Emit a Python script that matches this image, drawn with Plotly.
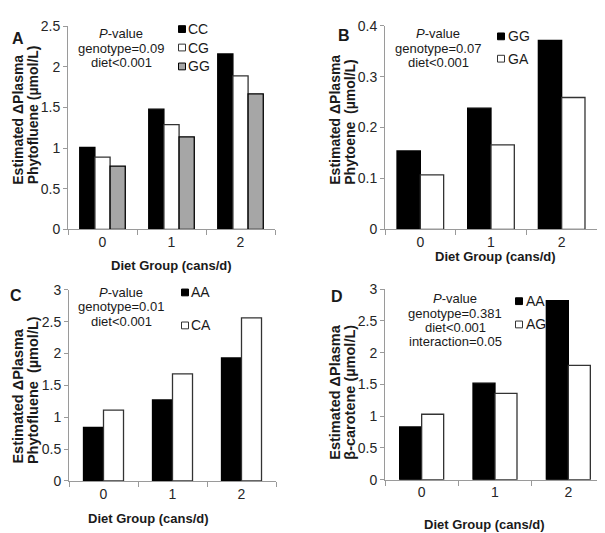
import plotly.graph_objects as go

W, H = 605, 533

diet_groups = ["0", "1", "2"]

# Panel A: phytofluene by genotype (CC, CG, GG)
a_names = ["CC", "CG", "GG"]
a_CC = [1.01, 1.48, 2.16]
a_CG = [0.89, 1.29, 1.89]
a_GG = [0.78, 1.14, 1.67]

# Panel B: phytoene by genotype (GG, GA)
b_names = ["GG", "GA"]
b_GG = [0.154, 0.238, 0.371]
b_GA = [0.107, 0.166, 0.259]

# Panel C: phytofluene by genotype (AA, CA)
c_names = ["AA", "CA"]
c_AA = [0.84, 1.27, 1.93]
c_CA = [1.11, 1.68, 2.56]

# Panel D: beta-carotene by genotype (AA, AG)
d_names = ["AA", "AG"]
d_AA = [0.83, 1.52, 2.82]
d_AG = [1.03, 1.36, 1.80]


def px(x):
    return x / W


def py(y):
    return 1 - y / H


BLACK = "#000000"
WHITE = "#ffffff"
GREY = "#a6a6a6"
EDGE_K = "#000000"
EDGE_W = "#333333"
AXIS = "#9a9a9a"
TXT = "#1a1a1a"
FONT = "Liberation Sans, Arial, sans-serif"

fig = go.Figure()


def add_group(names, series, fills, xa, ya, bw):
    n = len(series)
    start = -n * bw / 2
    for i, (nm, vals, fill) in enumerate(zip(names, series, fills)):
        fig.add_trace(go.Bar(
            x=diet_groups, y=vals, name=nm,
            width=bw, offset=start + i * bw,
            marker=dict(color=fill,
                        line=dict(color=EDGE_K if fill != WHITE else EDGE_W, width=1.3)),
            xaxis=xa, yaxis=ya, showlegend=False, hoverinfo="skip",
        ))


add_group(a_names, [a_CC, a_CG, a_GG], [BLACK, WHITE, GREY], "x", "y", 0.22)
add_group(b_names, [b_GG, b_GA], [BLACK, WHITE], "x2", "y2", 0.33)
add_group(c_names, [c_AA, c_CA], [BLACK, WHITE], "x3", "y3", 0.29)
add_group(d_names, [d_AA, d_AG], [BLACK, WHITE], "x4", "y4", 0.30)

tickfont = dict(family=FONT, size=14, color="#262626")

xcommon = dict(type="category", showline=True, linecolor=AXIS, linewidth=1,
               ticks="outside", tickson="boundaries", ticklen=5, tickcolor=AXIS,
               showgrid=False, zeroline=False, tickfont=tickfont, fixedrange=True)
ycommon = dict(showline=True, linecolor=AXIS, linewidth=1, ticks="outside",
               ticklen=4, tickcolor=AXIS, showgrid=False, zeroline=False,
               tickfont=tickfont, fixedrange=True)

# pixel boxes: (x0, x1, ytop, ybottom)
boxA = (60, 267, 10.7, 220)
boxB = (377, 589, 10, 220)
boxC = (61, 268, 282.3, 479.3)
boxD = (377, 597, 281.7, 478)

fig.update_layout(
    width=W, height=H, margin=dict(l=0, r=0, t=0, b=0),
    paper_bgcolor="white", plot_bgcolor="white",
    barmode="overlay", showlegend=False,
    xaxis=dict(domain=[px(boxA[0]), px(boxA[1])], anchor="y", **xcommon),
    yaxis=dict(domain=[py(boxA[3]), py(boxA[2])], anchor="x", range=[0, 2.5], dtick=0.5, **ycommon),
    xaxis2=dict(domain=[px(boxB[0]), px(boxB[1])], anchor="y2", **xcommon),
    yaxis2=dict(domain=[py(boxB[3]), py(boxB[2])], anchor="x2", range=[0, 0.4], dtick=0.1, **ycommon),
    xaxis3=dict(domain=[px(boxC[0]), px(boxC[1])], anchor="y3", **xcommon),
    yaxis3=dict(domain=[py(boxC[3]), py(boxC[2])], anchor="x3", range=[0, 3], dtick=0.5, **ycommon),
    xaxis4=dict(domain=[px(boxD[0]), px(boxD[1])], anchor="y4", **xcommon),
    yaxis4=dict(domain=[py(boxD[3]), py(boxD[2])], anchor="x4", range=[0, 3], dtick=0.5, **ycommon),
)

ann = []
shapes = []


def text(x, y, s, size, bold=False, angle=0, xanchor="center", yanchor="middle"):
    ann.append(dict(xref="paper", yref="paper", x=px(x), y=py(y), text=s,
                    showarrow=False, textangle=angle, xanchor=xanchor, yanchor=yanchor,
                    borderpad=0,
                    font=dict(family=FONT, size=size, color=TXT,
                              weight="bold" if bold else "normal")))


def legend(names, fills, sq_x, rows, text_x, size=7):
    for nm, fill, ry in zip(names, fills, rows):
        shapes.append(dict(type="rect", xref="paper", yref="paper",
                           x0=px(sq_x - size / 2), x1=px(sq_x + size / 2),
                           y0=py(ry + size / 2), y1=py(ry - size / 2),
                           fillcolor=fill,
                           line=dict(color=EDGE_K if fill != WHITE else EDGE_W, width=1)))
        text(text_x, ry, nm, 14, xanchor="left")


legend(a_names, [BLACK, WHITE, GREY], 174, [13.5, 32.5, 52], 179)
legend(b_names, [BLACK, WHITE], 493, [21, 44], 499)
legend(c_names, [BLACK, WHITE], 177, [285, 319], 182)
legend(d_names, [BLACK, WHITE], 511, [294, 318], 517)

# panel letters
text(10, 23, "A", 16, True)
text(336, 20, "B", 16, True)
text(8, 288, "C", 16, True)
text(329, 289, "D", 16, True)


def pbox(cx, ys, lines):
    for yy, s in zip(ys, lines):
        text(cx, yy, s, 13)


pbox(113, [18, 33, 48], ["<i>P</i>-value", "genotype=0.09", "diet&lt;0.001"])
pbox(430, [18, 33, 48], ["<i>P</i>-value", "genotype=0.07", "diet&lt;0.001"])
pbox(113, [285, 300, 315], ["<i>P</i>-value", "genotype=0.01", "diet&lt;0.001"])
pbox(447, [291.5, 306.3, 321.1, 335.9],
     ["<i>P</i>-value", "genotype=0.381", "diet&lt;0.001", "interaction=0.05"])

# x titles
text(163, 257, "Diet Group (cans/d)", 13, True)
text(487, 248, "Diet Group (cans/d)", 13, True)
text(140, 518, "Diet Group (cans/d)", 13, True)
text(477, 524, "Diet Group (cans/d)", 13, True)


def ytitle(x1, x2, ybot, l1, l2, size):
    text(x1, ybot, l1, size, True, -90, "center", "bottom")
    text(x2, ybot, l2, size, True, -90, "center", "bottom")


ytitle(10, 25, 175, "Estimated ΔPlasma", "Phytofluene (µmol/L)", 14)
ytitle(327, 342, 175, "Estimated ΔPlasma", "Phytoene&nbsp; (µmol/L)", 14)
ytitle(10, 25, 463, "Estimated ΔPlasma", "Phytofluene&nbsp; (µmol/L)", 14.5)
ytitle(327, 342, 459, "Estimated ΔPlasma", "β-carotene (µmol/L)", 14.5)

fig.update_layout(annotations=ann, shapes=shapes)

fig.write_html("out.html")
